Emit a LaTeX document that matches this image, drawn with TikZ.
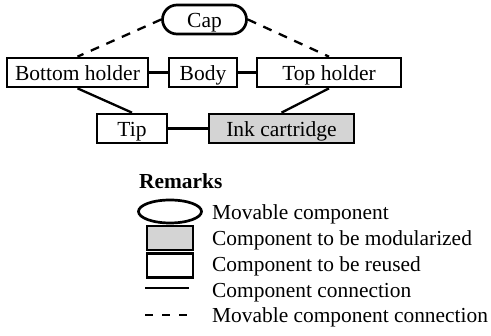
\documentclass[tikz,border=0pt]{standalone}
\usepackage{fontspec}
\setmainfont{Liberation Serif}
\usetikzlibrary{shapes.misc,shapes.geometric}
\begin{document}
\begin{tikzpicture}[x=1pt,y=-1pt,
  comp/.style={draw,line width=2.7pt,rectangle,inner sep=0pt,minimum height=29pt,text height=17pt,text depth=0pt,font=\fontsize{21.5}{21.5}\selectfont},
  modu/.style={comp,fill=black!17},
  movable/.style={draw,line width=2.7pt,rounded rectangle,inner sep=0pt,minimum height=29pt,minimum width=84pt,text height=17pt,text depth=0pt,font=\fontsize{21.5}{21.5}\selectfont},
  conn/.style={line width=2.3pt},
  mconn/.style={line width=2.3pt,dash pattern=on 9pt off 8pt},
  legtext/.style={anchor=base west,inner sep=0pt,font=\fontsize{21.4}{21.4}\selectfont}]
\useasboundingbox (0,0) rectangle (491,336);
% main diagram
\node[movable] (cap) at (204.5,19.5) {Cap};
\node[comp,minimum width=141pt] (bh) at (77.5,72.5) {Bottom holder};
\node[comp,minimum width=68pt] (body) at (203,72.5) {Body};
\node[comp,minimum width=144pt] (th) at (329,72.5) {Top holder};
\node[comp,minimum width=70pt] (tip) at (132,128.5) {Tip};
\node[modu,minimum width=145pt] (ink) at (281.5,128.5) {Ink cartridge};
\draw[conn] (bh) -- (body);
\draw[conn] (body) -- (th);
\draw[conn] (tip) -- (ink);
\draw[conn] (bh.south) -- (tip.north);
\draw[conn] (th.south) -- (ink.north);
\draw[mconn] (cap.west) -- (bh.north);
\draw[mconn] (cap.east) -- (th.north);
% legend
\node[anchor=base west,inner sep=0pt,font=\fontsize{21.4}{21.4}\selectfont\bfseries] (rem) at (139,189) {Remarks};
\node[draw,line width=2.7pt,ellipse,inner sep=0pt,minimum width=63pt,minimum height=23pt] (l1) at (170,211.5) {};
\node[draw,line width=2.7pt,fill=black!17,inner sep=0pt,minimum width=46pt,minimum height=24pt] (l2) at (170,238) {};
\node[draw,line width=2.7pt,inner sep=0pt,minimum width=46pt,minimum height=24pt] (l3) at (170,265.5) {};
\coordinate (l4a) at (145,288);
\coordinate (l4b) at (189,288);
\draw[conn] (l4a) -- (l4b);
\coordinate (l5a) at (145,315);
\coordinate (l5b) at (188,315);
\draw[conn,dash pattern=on 8pt off 9pt] (l5a) -- (l5b);
\node[legtext] (t1) at (212,220) {Movable component};
\node[legtext] (t2) at (212,246) {Component to be modularized};
\node[legtext] (t3) at (212,272) {Component to be reused};
\node[legtext] (t4) at (212,298) {Component connection};
\node[legtext] (t5) at (212,323) {Movable component connection};
\end{tikzpicture}
\end{document}
